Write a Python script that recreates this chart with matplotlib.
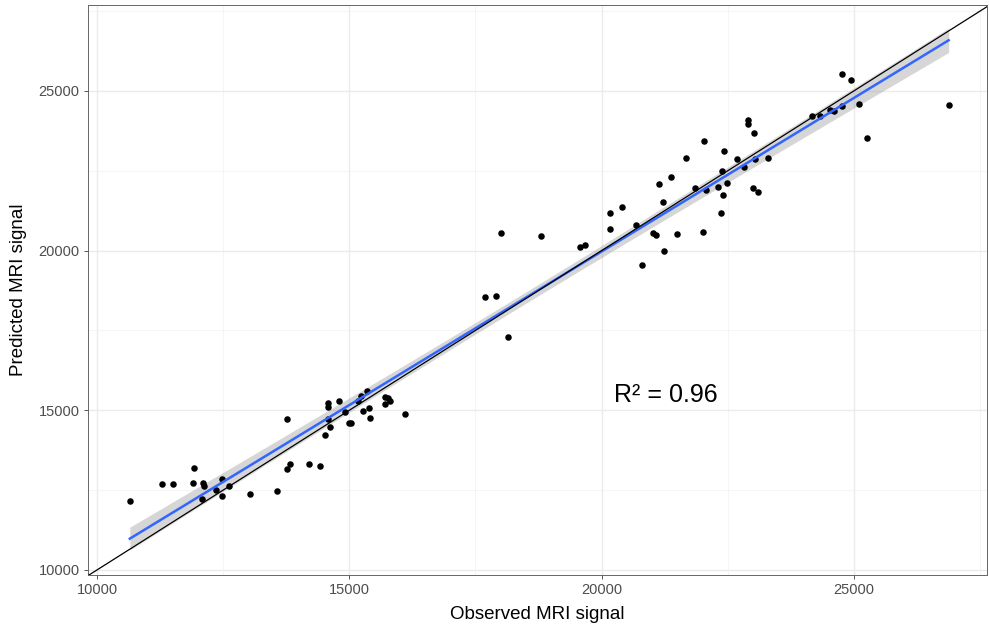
import numpy as np
import matplotlib
matplotlib.use("Agg")
import matplotlib.pyplot as plt

plt.rcParams['font.family'] = ['Liberation Sans', 'DejaVu Sans']

# observed vs predicted MRI signal
observed = [
    10649, 11296, 11502, 11925, 11905, 12097, 12117, 12089, 12347, 12474,
    12605, 12480, 13036, 13565, 13770, 13815, 14200, 14411, 14518, 14623,
    15000, 15040, 13756, 14583, 14577, 14802, 14921, 15224, 15343, 15179,
    15278, 15391, 15403, 15714, 15760, 15808, 15700, 16097, 14583,
    17698, 17911, 18149, 18010, 18790, 19563, 19663, 20159, 20403, 20159,
    20675, 20808, 21018, 21085, 21488, 22018, 21244, 21131, 21216, 21369,
    21673, 22024, 21845, 22063, 22307, 22401, 22367, 22486, 22395, 22434,
    22679, 22823, 22903, 22903, 23022, 23050, 23294, 23002, 23109,
    24180, 24325, 24523, 24609, 24762, 25099, 24762, 24946, 25258, 26879,
]
predicted = [
    12161, 12703, 12684, 13194, 12725, 12734, 12631, 12233, 12505, 12850,
    12631, 12327, 12371, 12474, 13163, 13310, 13319, 13257, 14228, 14488,
    14613, 14613, 14719, 15220, 15095, 15302, 14938, 15458, 15596, 15302,
    14979, 15082, 14760, 15408, 15396, 15302, 15208, 14885, 14739,
    18549, 18590, 17306, 20563, 20460, 20124, 20177, 21189, 21377, 20688,
    20794, 19561, 20544, 20481, 20513, 20585, 19980, 22078, 21533, 22307,
    22902, 23444, 21953, 21891, 22003, 21753, 21189, 22128, 22485, 23121,
    22861, 22611, 24102, 23967, 23675, 22861, 22911, 21953, 21837,
    24218, 24208, 24396, 24374, 24540, 24603, 25542, 25335, 23519, 24552,
]

x_ticks = [10000, 15000, 20000, 25000]
y_ticks = [10000, 15000, 20000, 25000]
minor_ticks = [12500, 17500, 22500, 27500]
r2_label = "R\u00b2 = 0.96"

x = np.array(observed, dtype=float)
y = np.array(predicted, dtype=float)

# linear fit with 95% confidence band (like geom_smooth(method = "lm"))
slope, intercept = np.polyfit(x, y, 1)
n = len(x)
resid = y - (slope * x + intercept)
s_err = np.sqrt(np.sum(resid ** 2) / (n - 2))
xs = np.linspace(x.min(), x.max(), 200)
ys = slope * xs + intercept
t_val = 1.988
band = t_val * s_err * np.sqrt(1 / n + (xs - x.mean()) ** 2 / np.sum((x - x.mean()) ** 2))

fig = plt.figure(figsize=(9.89, 6.35), dpi=100)
ax = fig.add_axes([0.089, 0.0945, 0.909, 0.8975])

ax.set_xlim(9820, 27640)
ax.set_ylim(9840, 27690)

ax.set_xticks(x_ticks)
ax.set_yticks(y_ticks)
ax.set_xticks(minor_ticks, minor=True)
ax.set_yticks(minor_ticks, minor=True)
ax.grid(which='major', color='#EBEBEB', linewidth=1.0, zorder=0)
ax.grid(which='minor', color='#F2F2F2', linewidth=0.5, zorder=0)
ax.set_axisbelow(True)

ax.tick_params(which='minor', length=0)
ax.tick_params(which='major', length=3, width=0.7, color='#555555',
               labelsize=10.5, labelcolor='#4D4D4D', pad=3)

for sp in ax.spines.values():
    sp.set_color('#666666')
    sp.set_linewidth(0.7)

ax.scatter(x, y, s=22, color='black', zorder=3, linewidths=0)
ax.fill_between(xs, ys - band, ys + band, color='#999999', alpha=0.4,
                linewidth=0, zorder=2)
ax.plot(xs, ys, color='#3366FF', linewidth=1.8, zorder=4)
ax.axline((10000, 10000), slope=1, color='black', linewidth=0.9, zorder=4)

ax.text(21270, 15480, r2_label, fontsize=18, ha='center', va='center')

ax.set_xlabel("Observed MRI signal", fontsize=13.5, labelpad=6)
ax.set_ylabel("Predicted MRI signal", fontsize=13.5, labelpad=8)

fig.savefig("out.png", dpi=100)
